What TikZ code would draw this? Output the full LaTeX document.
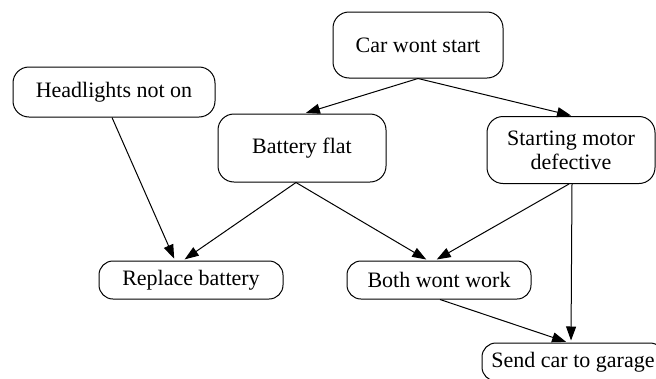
\documentclass[tikz,border=0pt]{standalone}
\usepackage{fontspec}
\setmainfont{Liberation Serif}
\usetikzlibrary{arrows.meta,calc}
\begin{document}
\begin{tikzpicture}[x=1pt,y=-1pt,
  box/.style={draw,line width=1pt,rounded corners=16pt,align=center,
    font=\fontsize{22}{24}\selectfont,inner sep=0pt},
  pill/.style={box,rounded corners=14pt},
  arr/.style={line width=1pt,-{Triangle[length=14pt,width=10pt]},shorten >=2pt}]
\useasboundingbox (0,0) rectangle (656,378);
\node[box,minimum width=170pt,minimum height=66pt] (car) at (418,45) {Car wont start};
\node[box,minimum width=202pt,minimum height=50pt] (head) at (114,92) {Headlights not on};
\node[box,minimum width=168pt,minimum height=68pt] (bf) at (302,148) {Battery flat};
\node[box,minimum width=168pt,minimum height=67pt] (sm) at (571,150) {Starting motor\\defective};
\node[pill,minimum width=184pt,minimum height=38pt] (rb) at (191,280) {Replace battery};
\node[pill,minimum width=184pt,minimum height=38pt] (bw) at (439,280) {Both wont work};
\node[pill,minimum width=182pt,minimum height=38pt] (sc) at (573,362) {Send car to garage};
\draw[arr] (car.south) -- ($(bf.north)+(2,0)$);
\draw[arr] (car.south) -- ($(sm.north)+(2,0)$);
\draw[arr] ($(head.south)+(-2,0)$) -- ($(rb.north)+(-16,0)$);
\draw[arr] ($(bf.south)+(-6,0)$) -- ($(rb.north)+(-8,0)$);
\draw[arr] ($(bf.south)+(-6,0)$) -- ($(bw.north)+(-11,0)$);
\draw[arr] ($(sm.south)+(-2,0)$) -- ($(bw.north)+(-4,0)$);
\draw[arr] ($(sm.south)+(1,0)$) -- ($(sc.north)+(-2,0)$);
\draw[arr] ($(bw.south)+(1,0)$) -- ($(sc.north)+(-5,0)$);
\end{tikzpicture}
\end{document}
